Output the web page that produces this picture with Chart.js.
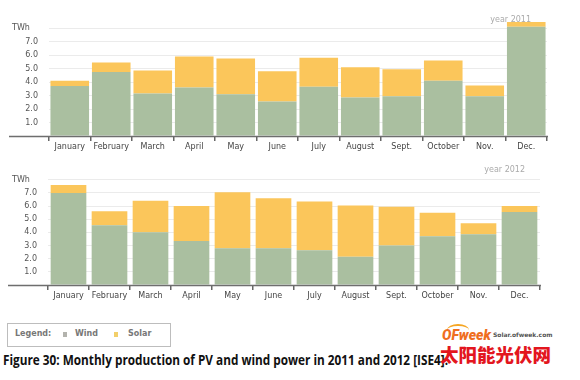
<!DOCTYPE html>
<html><head><meta charset="utf-8">
<script src="https://cdn.jsdelivr.net/npm/chart.js@4"></script>
<style>
body{margin:0;background:#fff;width:580px;height:380px;position:relative;overflow:hidden;font-family:"DejaVu Sans",sans-serif}
.abs{position:absolute;white-space:nowrap}
.yr{font-size:8px;color:#aaa;line-height:10px}
</style></head><body>
<div class="abs" style="left:0;top:0;width:580px;height:156px"><canvas id="c1"></canvas></div>
<div class="abs" style="left:0;top:160px;width:580px;height:145px"><canvas id="c2"></canvas></div>
<div class="abs yr" style="right:49px;top:15px">year 2011</div>
<div class="abs yr" style="right:55px;top:165px">year 2012</div>

<div class="abs" style="left:7px;top:323px;width:162px;height:22px;border:1px solid #bdbdbd;"></div>
<div class="abs" style="left:15px;top:329px;font-size:8px;font-weight:bold;color:#777;line-height:10px">Legend:</div>
<div class="abs" style="left:63px;top:332px;width:4px;height:5px;background:#b3b3ad"></div>
<div class="abs" style="left:75px;top:329px;font-size:8px;font-weight:bold;color:#777;line-height:10px">Wind</div>
<div class="abs" style="left:114px;top:332px;width:4px;height:5px;background:#f2cf6a"></div>
<div class="abs" style="left:128px;top:329px;font-size:8px;font-weight:bold;color:#777;line-height:10px">Solar</div>

<div id="cap" class="abs" style="left:3px;top:351px;font-family:'Open Sans',sans-serif;font-weight:bold;font-size:14px;line-height:18px;color:#111;transform-origin:0 0">Figure 30: Monthly production of PV and wind power in 2011 and 2012 [ISE4].</div>

<div class="abs" style="left:447px;top:324px;width:22px;height:10px;border-top:2px solid #f5a623;border-radius:50%"></div>
<div class="abs" style="left:442px;top:327px;font-family:Roboto,sans-serif;font-style:italic;font-weight:900;font-size:14px;line-height:16px;color:#ef6f1f">OFweek</div>
<div class="abs" style="left:493px;top:331px;font-family:'DejaVu Sans',sans-serif;font-weight:bold;font-size:6px;line-height:8px;color:#555">Solar.ofweek.com</div>
<div class="abs" style="left:440px;top:343px;font-family:'Noto Sans CJK SC',sans-serif;font-weight:900;font-size:18.5px;line-height:22px;color:#e3161e">太阳能光伏网</div>

<script>
const months = ['January','February','March','April','May','June','July','August','Sept.','October','Nov.','Dec.'];
const wind2011  = [3.7, 4.75, 3.15, 3.6, 3.1, 2.55, 3.65, 2.85, 2.95, 4.1, 2.95, 8.1];
const solar2011 = [0.4, 0.7, 1.7, 2.3, 2.65, 2.25, 2.15, 2.25, 2.0, 1.5, 0.8, 0.35];
const wind2012  = [7.0, 4.55, 4.0, 3.35, 2.8, 2.8, 2.65, 2.15, 3.0, 3.7, 3.85, 5.55];
const solar2012 = [0.6, 1.05, 2.4, 2.65, 4.25, 3.8, 3.7, 3.9, 2.95, 1.8, 0.85, 0.45];
const yTicks = [0, 1, 2, 3, 4, 5, 6, 7, 8];
const unitLabel = 'TWh';

const WIND_COLOR = '#aabfa0';
const SOLAR_COLOR = '#fbc65b';

const deco = {
  id: 'deco',
  afterDraw(chart, args, opts) {
    const ctx = chart.ctx, y = chart.scales.y, a = chart.chartArea;
    const y0 = Math.round(y.getPixelForValue(0)) + 0.5;
    ctx.save();
    ctx.strokeStyle = '#6e6e6e';
    ctx.lineWidth = 1.5;
    ctx.beginPath();
    ctx.moveTo(opts.lineStart, y0);
    ctx.lineTo(a.right + 1, y0);
    ctx.stroke();
    ctx.fillStyle = '#555';
    ctx.font = '8px "DejaVu Sans"';
    ctx.textAlign = 'left';
    ctx.textBaseline = 'middle';
    ctx.fillText(unitLabel, 12, y.getPixelForValue(yTicks[yTicks.length - 1]));
    ctx.restore();
  }
};

function makeChart(id, wind, solar, c) {
  return new Chart(document.getElementById(id), {
    type: 'bar',
    data: {
      labels: months,
      datasets: [
        {label: 'Wind', data: wind, backgroundColor: WIND_COLOR, barPercentage: c.barPct, categoryPercentage: 1},
        {label: 'Solar', data: solar, backgroundColor: SOLAR_COLOR, barPercentage: c.barPct, categoryPercentage: 1}
      ]
    },
    plugins: [deco],
    options: {
      responsive: true,
      maintainAspectRatio: false,
      animation: false,
      layout: {padding: {top: c.padTop, right: c.padRight, left: 0, bottom: 0}},
      plugins: {legend: {display: false}, tooltip: {enabled: false}, deco: {lineStart: c.lineStart}},
      scales: {
        x: {
          stacked: true,
          grid: {offset: true, drawOnChartArea: false, drawTicks: true, tickLength: 5, lineWidth: 1.5, color: '#666'},
          border: {display: false},
          ticks: {font: {family: 'DejaVu Sans', size: 8}, color: '#444', padding: 1, autoSkip: false, maxRotation: 0},
          afterFit: s => { s.height = 20; }
        },
        y: {
          stacked: true,
          min: 0,
          max: c.yMax,
          afterBuildTicks: s => { s.ticks = yTicks.map(v => ({value: v})); },
          grid: {color: '#ebebeb', lineWidth: 1, drawTicks: false},
          border: {display: false},
          ticks: {
            font: {family: 'DejaVu Sans', size: 8}, color: '#555', padding: 11,
            callback: v => (v === 0 || v === yTicks[yTicks.length - 1]) ? '' : v.toFixed(1)
          },
          afterFit: s => { s.width = c.yWidth; }
        }
      }
    }
  });
}

makeChart('c1', wind2011, solar2011, {yMax: 8.6, yWidth: 49, padRight: 33, padTop: 20, barPct: 0.93, lineStart: 9});
makeChart('c2', wind2012, solar2012, {yMax: 8.3, yWidth: 48, padRight: 40, padTop: 14.5, barPct: 0.87, lineStart: 8});

const cap = document.getElementById('cap');
const w = cap.getBoundingClientRect().width;
cap.style.transform = 'scaleX(' + (445 / w) + ')';
</script>
</body></html>
